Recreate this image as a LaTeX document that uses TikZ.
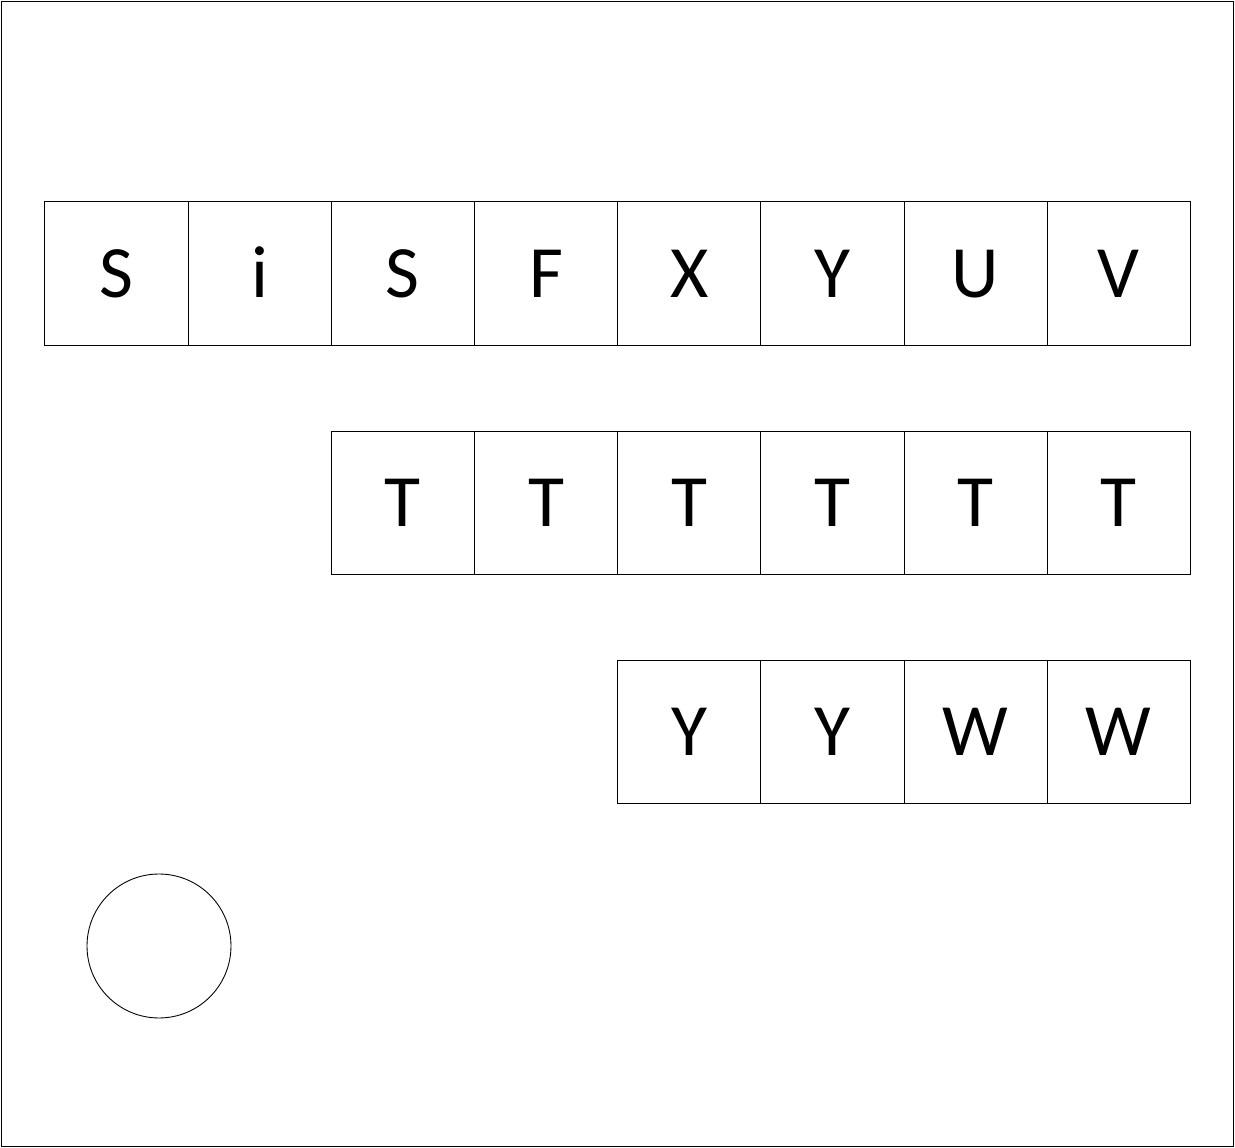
\documentclass[tikz,border=0pt]{standalone}
\usepackage{fontspec}
\setmainfont{Carlito}
\usetikzlibrary{positioning}
\tikzset{cell/.style={draw, line width=0.5pt, minimum size=2.864cm, inner sep=0pt, outer sep=0pt, text height=27pt, text depth=0pt, font=\fontsize{42}{46}\selectfont}}

\begin{document}
\begin{tikzpicture}[x=0.02cm, y=-0.02cm, node distance=0pt]
\useasboundingbox (0,0) rectangle (1235,1148);
\draw[line width=0.5pt] (1,1) rectangle (1233,1146);
% first row
\node[cell] (s1) at (116.5,273.5) {S};
\node[cell, right=of s1] (s2) {i};
\node[cell, right=of s2] (s3) {S};
\node[cell, right=of s3] (s4) {F};
\node[cell, right=of s4] (s5) {X};
\node[cell, right=of s5] (s6) {Y};
\node[cell, right=of s6] (s7) {U};
\node[cell, right=of s7] (s8) {V};
% second row
\node[cell, below=1.72cm of s3] (t1) {T};
\node[cell, right=of t1] (t2) {T};
\node[cell, right=of t2] (t3) {T};
\node[cell, right=of t3] (t4) {T};
\node[cell, right=of t4] (t5) {T};
\node[cell, right=of t5] (t6) {T};
% third row
\node[cell, below=1.72cm of t3] (w1) {Y};
\node[cell, right=of w1] (w2) {Y};
\node[cell, right=of w2] (w3) {W};
\node[cell, right=of w3] (w4) {W};
% circle
\node[draw, line width=0.5pt, circle, minimum size=2.88cm, inner sep=0pt] (c) at (159,946) {};
\end{tikzpicture}
\end{document}
